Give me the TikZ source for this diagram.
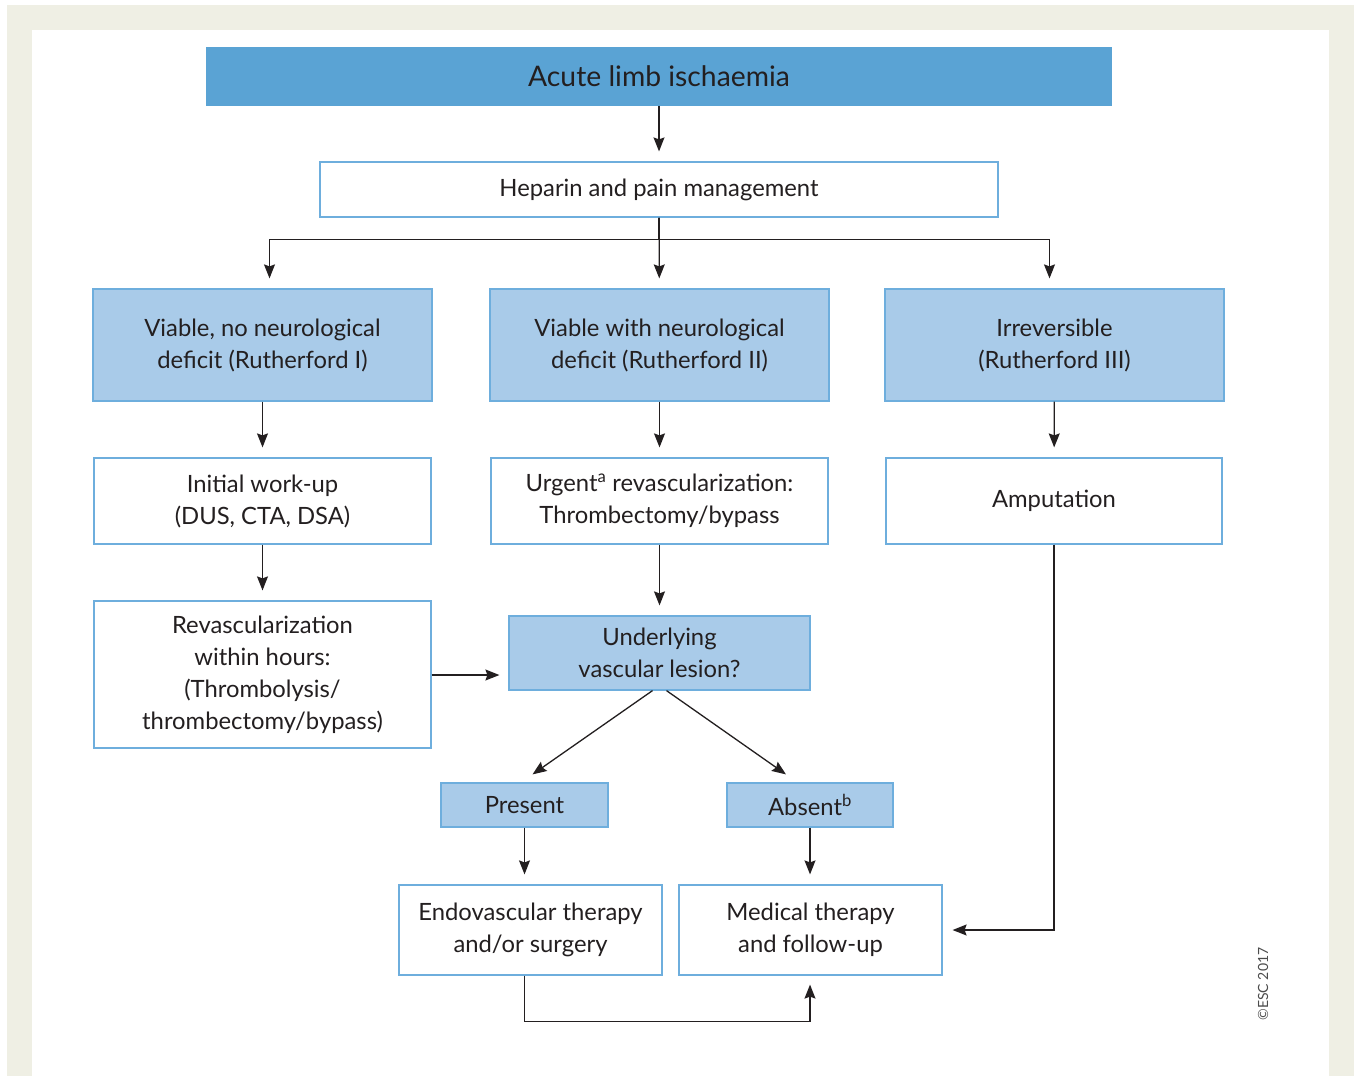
\documentclass[tikz,border=0pt]{standalone}
\usepackage{fontspec}
\setmainfont{Lato}
\usetikzlibrary{arrows.meta,positioning,calc}
\definecolor{escbeige}{HTML}{EFEFE4}
\definecolor{escblue}{HTML}{5AA3D4}
\definecolor{esclight}{HTML}{A9CBE9}
\definecolor{escline}{HTML}{6EAEDD}
\definecolor{ink}{HTML}{231F20}

\begin{document}
\begin{tikzpicture}[x=1pt, y=-1pt, >={Stealth[length=14pt,width=11pt,inset=2pt]},
    font=\fontsize{23.8}{32}\selectfont, text=ink,
    box/.style={draw=escline, line width=1.2pt, align=center, inner sep=0pt},
    plain/.style={box, fill=white},
    query/.style={box, fill=esclight},
    arr/.style={->, draw=ink, line width=1.3pt, shorten >=10pt}]
% frame
\useasboundingbox (0,0) rectangle (1357,1076);
\fill[escbeige] (7,5) rectangle (1354,1076);
\fill[white] (32,30) rectangle (1329,1076);
% boxes
\node[box, draw=escblue, fill=escblue, minimum width=904, minimum height=57,
  font=\fontsize{28.3}{32}\selectfont] (acute) at (659,76.5) {Acute limb ischaemia};
\node[plain, minimum width=678, minimum height=55] (hep) at (659,189.5) {Heparin and pain management};
\node[query, minimum width=339, minimum height=112] (via1) at (262.5,345) {Viable, no neurological\\deficit (Rutherford I)};
\node[query, minimum width=339, minimum height=112] (via2) at (659.5,345) {Viable with neurological\\deficit (Rutherford II)};
\node[query, minimum width=339, minimum height=112] (irrev) at (1054.5,345) {Irreversible\\(Rutherford III)};
\node[plain, minimum width=337, minimum height=86] (workup) at (262.5,501) {Initial work-up\\(DUS, CTA, DSA)};
\node[plain, minimum width=337, minimum height=86] (urgent) at (659.5,501) {Urgent\textsuperscript{a} revascularization:\\Thrombectomy/bypass};
\node[plain, minimum width=336, minimum height=86] (amput) at (1054,501) {Amputation};
\node[plain, minimum width=337, minimum height=147] (revasc) at (262.5,674.5) {Revascularization\\within hours:\\(Thrombolysis/\\thrombectomy/bypass)};
\node[query, minimum width=301, minimum height=74] (lesion) at (659.5,653) {Underlying\\vascular lesion?};
\node[query, minimum width=167, minimum height=44] (present) at (524.5,805) {Present};
\node[query, minimum width=166, minimum height=44] (absent) at (810,805) {Absent\textsuperscript{b}};
\node[plain, minimum width=263, minimum height=90] (endo) at (530.5,930) {Endovascular therapy\\and/or surgery};
\node[plain, minimum width=263, minimum height=90] (medical) at (810.5,930) {Medical therapy\\and follow-up};
\node[rotate=90, text=black!70, font=\fontsize{14}{16}\selectfont] (copy) at (1263,984) {\textcopyright ESC 2017};
% connectors
\draw[arr] (acute) -- (hep);
\draw[arr] (hep) -- (via2);
\draw[arr] (hep.south) -- ++(0,22) -| ([xshift=7pt]via1.north);
\draw[arr] (hep.south) -- ++(0,22) -| ([xshift=-5pt]irrev.north);
\draw[arr] (via1) -- (workup);
\draw[arr] (via2) -- (urgent);
\draw[arr] (irrev) -- (amput);
\draw[arr] (workup) -- (revasc);
\draw[arr] (urgent.south) -- (urgent.south |- lesion.north);
\draw[arr, shorten >=9pt] (revasc.east |- 0,675) -- (lesion.west |- 0,675);
\draw[arr, shorten >=0pt] ([xshift=-7pt]lesion.south) -- ($(present.north)+(8,-8)$);
\draw[arr, shorten >=0pt] ([xshift=7pt]lesion.south) -- ($(absent.north)+(-24,-8)$);
\draw[arr] (present) -- (present.south |- endo.north);
\draw[arr] (absent) -- (absent.south |- medical.north);
\draw[arr] (amput.south) |- (medical.east);
\draw[arr, shorten >=9pt] (endo.south -| present.south) -- ++(0,46) -| (medical.south -| absent.south);
\end{tikzpicture}
\end{document}
